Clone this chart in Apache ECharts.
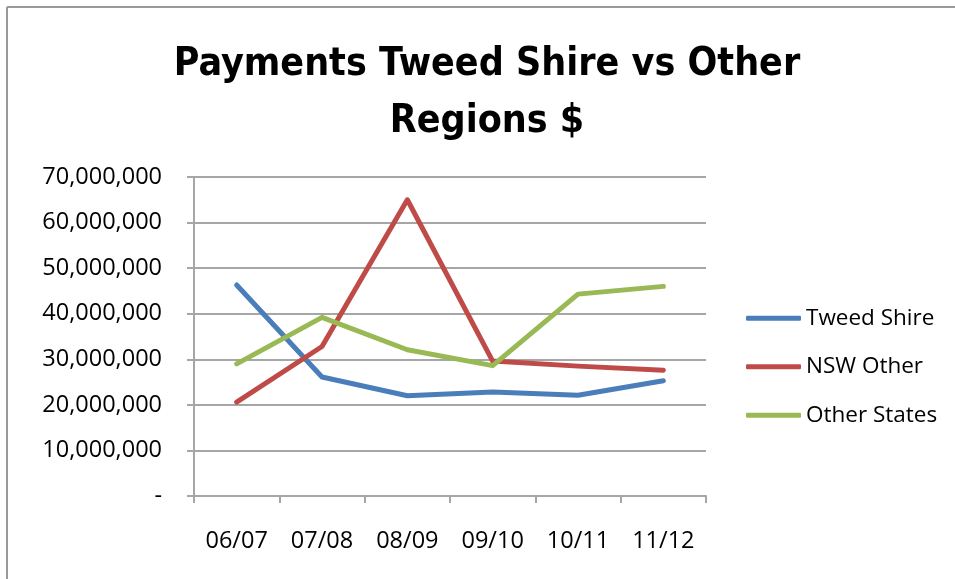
<!DOCTYPE html>
<html>
<head>
<meta charset="utf-8">
<script src="https://cdn.jsdelivr.net/npm/echarts@6/dist/echarts.min.js"></script>
<style>
  html, body { margin: 0; padding: 0; background: #ffffff; }
  #chart { width: 955px; height: 579px; }
</style>
</head>
<body>
<div id="chart"></div>
<script>
// Financial years on the category axis
const years = ['06/07', '07/08', '08/09', '09/10', '10/11', '11/12'];

// Payments by region ($)
const tweedShire  = [46300000, 26100000, 22000000, 22800000, 22100000, 25300000];
const nswOther    = [20600000, 32800000, 65000000, 29600000, 28500000, 27600000];
const otherStates = [29000000, 39200000, 32100000, 28600000, 44300000, 46000000];

// Value axis range
const yMin = 0;
const yMax = 70000000;
const yStep = 10000000;

const labelFont = '"Open Sans", "Liberation Sans", sans-serif';
const titleFont = '"DejaVu Sans Condensed", "Open Sans", sans-serif';
const gridGray = '#a6a6a6';

function fmt(v) {
  if (v === 0) return '-';
  return String(Math.round(v)).replace(/\B(?=(\d{3})+(?!\d))/g, ',');
}

function lineSeries(name, data, color) {
  return {
    name: name,
    type: 'line',
    data: data,
    symbol: 'none',
    lineStyle: { color: color, width: 5, cap: 'round', join: 'round' },
    itemStyle: { color: color },
    emphasis: { disabled: true }
  };
}

const chart = echarts.init(document.getElementById('chart'), null, { renderer: 'canvas' });

chart.setOption({
  backgroundColor: '#ffffff',
  animation: false,
  title: {
    text: 'Payments Tweed Shire vs Other\nRegions $',
    left: 482,
    top: 31,
    textAlign: 'center',
    textStyle: {
      fontFamily: titleFont,
      fontWeight: 'bold',
      fontSize: 39,
      lineHeight: 57,
      color: '#000000'
    }
  },
  graphic: [
    { type: 'line', shape: { x1: 7, y1: 7, x2: 955, y2: 7 }, style: { stroke: '#9a9a9a', lineWidth: 2 } },
    { type: 'line', shape: { x1: 7, y1: 7, x2: 7, y2: 579 }, style: { stroke: '#9a9a9a', lineWidth: 2 } }
  ],
  legend: {
    orient: 'vertical',
    left: 741,
    top: 301,
    icon: 'roundRect',
    itemWidth: 55,
    itemHeight: 5,
    itemGap: 24,
    textStyle: { fontFamily: labelFont, fontSize: 22.5, color: '#000000', lineHeight: 24.5 },
    data: ['Tweed Shire', 'NSW Other', 'Other States']
  },
  grid: { left: 194, right: 249, top: 177, bottom: 83, containLabel: false },
  xAxis: {
    type: 'category',
    data: years,
    boundaryGap: true,
    axisLine: { show: true, lineStyle: { color: gridGray, width: 2 } },
    axisTick: { show: true, alignWithLabel: false, length: 7, lineStyle: { color: gridGray, width: 2 } },
    axisLabel: { margin: 33, fontFamily: labelFont, fontSize: 23.5, color: '#000000' },
    splitLine: { show: false }
  },
  yAxis: {
    type: 'value',
    min: yMin,
    max: yMax,
    interval: yStep,
    axisLine: { show: true, lineStyle: { color: gridGray, width: 2 } },
    axisTick: { show: true, length: 7, lineStyle: { color: gridGray, width: 2 } },
    axisLabel: { margin: 32, fontFamily: labelFont, fontSize: 23.5, color: '#000000', formatter: fmt },
    splitLine: { show: true, lineStyle: { color: gridGray, width: 2 } }
  },
  series: [
    lineSeries('Tweed Shire', tweedShire, '#4a7ebb'),
    lineSeries('NSW Other', nswOther, '#be4b48'),
    lineSeries('Other States', otherStates, '#98b954')
  ]
});
</script>
</body>
</html>
